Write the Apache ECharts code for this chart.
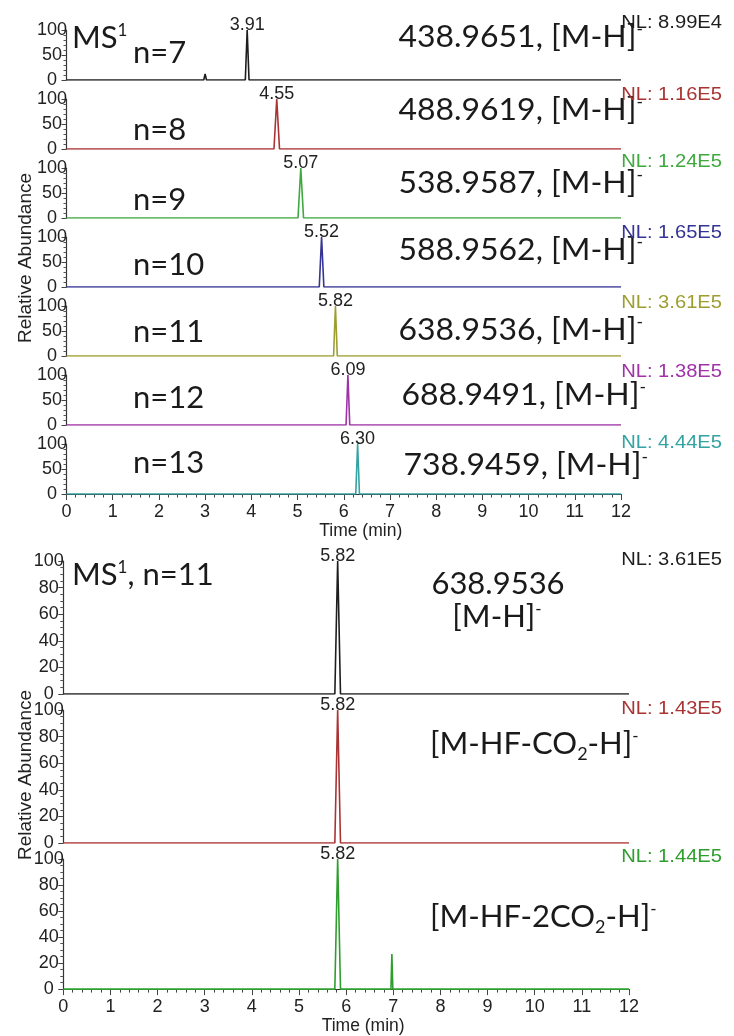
<!DOCTYPE html>
<html><head><meta charset="utf-8">
<script src="https://cdn.jsdelivr.net/npm/echarts@6/dist/echarts.min.js"></script>
<style>html,body{margin:0;padding:0;background:#fff}#c{width:734px;height:1036px}</style>
</head><body><div id="c"></div>
<script>
// ---------- data: top section (MS1 EICs, n = 7..13) ----------
const topLabels = ['n=7','n=8','n=9','n=10','n=11','n=12','n=13'];
const topMz = ['438.9651','488.9619','538.9587','588.9562','638.9536','688.9491','738.9459'];
const topNL = ['NL: 8.99E4','NL: 1.16E5','NL: 1.24E5','NL: 1.65E5','NL: 3.61E5','NL: 1.38E5','NL: 4.44E5'];
const topPeakRT = [3.91, 4.55, 5.07, 5.52, 5.82, 6.09, 6.30];
const traceN7  = [[0,0],[2.97,0],[3.00,12],[3.03,0],[3.87,0],[3.91,100],[3.95,0],[12,0]];
const traceN8  = [[0,0],[4.49,0],[4.55,100],[4.61,0],[12,0]];
const traceN9  = [[0,0],[5.01,0],[5.07,100],[5.13,0],[12,0]];
const traceN10 = [[0,0],[5.47,0],[5.52,100],[5.57,0],[12,0]];
const traceN11 = [[0,0],[5.78,0],[5.82,100],[5.86,0],[12,0]];
const traceN12 = [[0,0],[6.05,0],[6.09,100],[6.13,0],[12,0]];
const traceN13 = [[0,0],[6.26,0],[6.30,100],[6.34,0],[12,0]];
const topTraces = [traceN7, traceN8, traceN9, traceN10, traceN11, traceN12, traceN13];

// ---------- data: bottom section (n = 11, fragments) ----------
const botNL = ['NL: 3.61E5','NL: 1.43E5','NL: 1.44E5'];
const botPeakRT = [5.82, 5.82, 5.82];
const traceMH     = [[0,0],[5.76,0],[5.82,100],[5.88,0],[12,0]];
const traceHFCO2  = [[0,0],[5.76,0],[5.82,100],[5.88,0],[12,0]];
const traceHF2CO2 = [[0,0],[5.76,0],[5.82,100],[5.88,0],[6.95,0],[6.97,27],[6.99,0],[12,0]];
const botTraces = [traceMH, traceHFCO2, traceHF2CO2];

const xTicks = [0,1,2,3,4,5,6,7,8,9,10,11,12];

// ---------- styles ----------
const topColors = ['#1e1e1e','#aa3333','#3fa93f','#343494','#9e9e30','#a032a8','#33a3a3'];
const botColors = ['#1e1e1e','#aa3333','#2f9e2f'];
const SANS = '"Liberation Sans", Arial, sans-serif';
const CAL = 'Lato, "Open Sans", sans-serif';

const grids = [], xAxes = [], yAxes = [], series = [], graphics = [];

function addPanel(idx, gridCfg, data, color, rt, isLast, yInterval, minorSplit, labelMargin) {
  grids.push(gridCfg);
  xAxes.push({
    gridIndex: idx, type: 'value', min: 0, max: 12, interval: 1,
    axisLine: { show: isLast, lineStyle: { color: '#333', width: 1.2 } },
    axisTick: { show: isLast, length: 6, lineStyle: { color: '#444' } },
    minorTick: { show: isLast, splitNumber: 5, length: 3.5, lineStyle: { color: '#444' } },
    axisLabel: { show: isLast, fontSize: 18, fontFamily: SANS, color: '#222', margin: 9,
      formatter: v => xTicks.includes(v) ? String(v) : '' },
    splitLine: { show: false },
    name: isLast ? 'Time (min)' : '', nameLocation: 'middle', nameGap: 21,
    nameTextStyle: { fontSize: 17.5, fontFamily: SANS, color: '#222', padding: [0,0,0,34] }
  });
  yAxes.push({
    gridIndex: idx, type: 'value', min: 0, max: 100, interval: yInterval,
    axisLine: { show: true, lineStyle: { color: '#333', width: 1.2 } },
    axisTick: { show: true, length: 5, lineStyle: { color: '#444' } },
    minorTick: { show: true, splitNumber: minorSplit, length: 3, lineStyle: { color: '#555' } },
    axisLabel: { fontSize: 18, fontFamily: SANS, color: '#222', align: 'center', margin: labelMargin,
      padding: [6,0,0,0] },
    splitLine: { show: false }
  });
  const peak = data.find(p => p[0] === rt);
  series.push({
    type: 'line', xAxisIndex: idx, yAxisIndex: idx, data: data,
    symbol: 'none', silent: true, animation: false,
    lineStyle: { color: color, width: 1.6 },
    markPoint: {
      symbol: 'circle', symbolSize: 0, silent: true, animation: false,
      data: [{ coord: [rt, peak[1]], value: rt.toFixed(2) }],
      label: { show: true, position: 'top', distance: -4, formatter: '{c}',
        fontSize: 18, fontFamily: SANS, color: '#222' }
    }
  });
}

// top section geometry
topTraces.forEach((d, i) => {
  addPanel(i, { left: 66.5, right: 113, top: 30 + 69 * i, height: 50 },
    d, topColors[i], topPeakRT[i], i === topTraces.length - 1, 50, 5, 14.5);
});
// bottom section geometry
botTraces.forEach((d, j) => {
  addPanel(7 + j, { left: 63.3, right: 105, top: 561 + 149 * j, height: 133 },
    d, botColors[j], botPeakRT[j], j === botTraces.length - 1, 20, 4, 14.5);
});

// ---------- text annotations ----------
const big = { fontSize: 31, fontFamily: CAL, fill: '#1a1a1a' };
const sup = { fontSize: 17, fontFamily: CAL, fill: '#1a1a1a', padding: [0,0,14,0] };
const sub = { fontSize: 18, fontFamily: CAL, fill: '#1a1a1a', padding: [20,0,0,0] };
const rich = { m: big, s: sup, b: sub };
function txt(x, y, text, align, extra) {
  graphics.push(Object.assign({
    type: 'text', x: x, y: y, silent: true,
    style: { text: text, rich: rich, align: align, verticalAlign: 'middle',
      fontSize: 31, fontFamily: CAL, fill: '#1a1a1a' }
  }, extra || {}));
}
function small(x, y, text, color, align) {
  graphics.push({ type: 'text', x: x, y: y, scaleX: 1.12, silent: true,
    style: { text: text, align: align || 'right', verticalAlign: 'middle',
      fontSize: 18, fontFamily: SANS, fill: color } });
}
function ylabel(x, y) {
  graphics.push({ type: 'text', x: x, y: y, rotation: Math.PI / 2, silent: true,
    style: { text: 'Relative Abundance', align: 'center', verticalAlign: 'middle',
      fontSize: 19, fontFamily: SANS, fill: '#222' } });
}

// top texts
txt(72, 38, '{m|MS}{s|1}', 'left');
const nY = [53, 130, 200, 265, 332, 398, 463];
const mzY = [37, 110, 183, 250, 330, 395, 465];
const mzX = [643, 643, 643, 643, 643, 646, 648];
const nlY = [23, 95, 162, 233, 303, 372, 443];
topLabels.forEach((t, i) => {
  txt(133, nY[i], '{m|' + t + '}', 'left');
  txt(mzX[i], mzY[i], '{m|' + topMz[i] + ', [M-H]}{s|-}', 'right', { scaleX: 1.03 });
  small(722, nlY[i], topNL[i], topColors[i]);
});
ylabel(26, 258);

// bottom texts
txt(72, 575, '{m|MS}{s|1}{m|, n=11}', 'left');
txt(498, 584, '{m|638.9536}', 'center');
txt(497, 617, '{m|[M-H]}{s|-}', 'center');
txt(430, 744, '{m|[M-HF-CO}{b|2}{m|-H]}{s|-}', 'left');
txt(430, 917, '{m|[M-HF-2CO}{b|2}{m|-H]}{s|-}', 'left');
const botNlY = [560, 709, 857];
botNL.forEach((t, j) => small(722, botNlY[j], t, botColors[j]));
ylabel(26, 775);

const chart = echarts.init(document.getElementById('c'), null, { renderer: 'canvas' });
chart.setOption({
  backgroundColor: '#ffffff',
  animation: false,
  grid: grids, xAxis: xAxes, yAxis: yAxes, series: series,
  graphic: graphics
});
</script>
</body></html>
